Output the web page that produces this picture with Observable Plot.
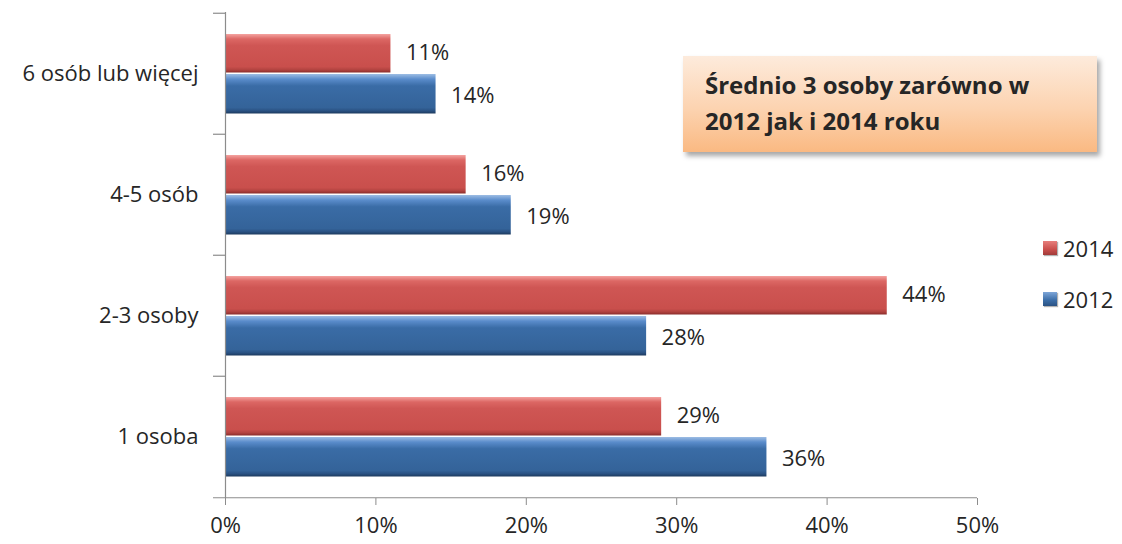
<!DOCTYPE html>
<html>
<head>
<meta charset="utf-8">
<script src="https://cdn.jsdelivr.net/npm/d3@7"></script>
<script src="https://cdn.jsdelivr.net/npm/@observablehq/plot@0.6"></script>
<style>
  html, body { margin: 0; padding: 0; background: #fff; }
  #wrap { position: relative; width: 1122px; height: 544px; font-family: "Open Sans", sans-serif; }
  #note {
    position: absolute; left: 683px; top: 56px; width: 414px; height: 96px; box-sizing: border-box;
    padding: 11px 0 0 22px;
    background: linear-gradient(to bottom, #fdebdc 0%, #fcd3b0 55%, #fab982 100%);
    box-shadow: 3px 4px 5px rgba(0,0,0,0.35);
    font-weight: bold; font-size: 24px; line-height: 36px; color: #262626;
  }
  .leg { position: absolute; left: 1043px; font-size: 22px; color: #262626; display: flex; align-items: center; }
  .leg span.sw { width: 14px; height: 14px; margin-right: 6px; box-shadow: 1px 1px 1px rgba(0,0,0,0.3); }
</style>
</head>
<body>
<div id="wrap"></div>
<script>
const categories = ["6 osób lub więcej", "4-5 osób", "2-3 osoby", "1 osoba"];
const values2014 = [11, 16, 44, 29];
const values2012 = [14, 19, 28, 36];
const xTicks = [0, 10, 20, 30, 40, 50];
const noteLines = ["Średnio 3 osoby zarówno w", "2012 jak i 2014 roku"];
const seriesNames = ["2014", "2012"];

const d2014 = categories.map((c, i) => ({cat: c, v: values2014[i]}));
const d2012 = categories.map((c, i) => ({cat: c, v: values2012[i]}));
const boundaries = categories.map(c => ({cat: c}));

const axisColor = "#8c8c8c";
const FS = 22;

const chart = Plot.plot({
  width: 1122,
  height: 544,
  marginLeft: 225,
  marginRight: 145,
  marginTop: 12,
  marginBottom: 46,
  style: {fontFamily: "'Open Sans', sans-serif", fontSize: FS + "px", color: "#262626", background: "white"},
  x: {domain: [0, 50], ticks: xTicks, tickFormat: d => d + "%"},
  y: {domain: categories, padding: 0},
  marks: [
    Plot.barX(d2014, {x: "v", y: "cat", fill: "url(#gRed)", insetTop: 21, insetBottom: 61.5, style: "filter: drop-shadow(1px 2px 1.5px rgba(0,0,0,0.35))"}),
    Plot.barX(d2012, {x: "v", y: "cat", fill: "url(#gBlue)", insetTop: 61, insetBottom: 20.5, style: "filter: drop-shadow(1px 2px 1.5px rgba(0,0,0,0.35))"}),
    Plot.text(d2014, {x: "v", y: "cat", text: d => d.v + "%", textAnchor: "start", dx: 15, dy: -21, fill: "#262626", fontSize: FS}),
    Plot.text(d2012, {x: "v", y: "cat", text: d => d.v + "%", textAnchor: "start", dx: 15, dy: 22, fill: "#262626", fontSize: FS}),
    Plot.ruleX([0], {stroke: axisColor, strokeWidth: 1.2}),
    Plot.ruleY(boundaries, {y: "cat", dy: -60.75, x1: -0.8, x2: 0, stroke: axisColor, strokeWidth: 1.2}),
    Plot.ruleY(categories.slice(-1), {y: d => d, dy: 60.75, x1: -0.8, x2: 50, stroke: axisColor, strokeWidth: 1.2}),
    Plot.axisX({ticks: xTicks, tickFormat: d => d + "%", tickSize: 7, tickPadding: 12, stroke: axisColor, color: "#262626", fontSize: FS, label: null}),
    Plot.axisY({tickSize: 0, tickPadding: 27, fontSize: FS, label: null, color: "#262626"})
  ]
});

// gradients for bevelled bars
const svg = d3.select(chart);
const defs = svg.insert("defs", ":first-child");
function grad(id, stops) {
  const g = defs.append("linearGradient").attr("id", id).attr("x1", 0).attr("y1", 0).attr("x2", 0).attr("y2", 1);
  stops.forEach(([o, c]) => g.append("stop").attr("offset", o).attr("stop-color", c));
}
grad("gRed", [[0, "#f4a3a0"], [0.13, "#dc6764"], [0.3, "#cf5654"], [0.85, "#c94f4c"], [0.93, "#b24340"], [1, "#8a2d2b"]]);
grad("gBlue", [[0, "#9dbde4"], [0.13, "#5a8ccb"], [0.3, "#3a6ca6"], [0.85, "#346399"], [0.93, "#2a5283"], [1, "#1d3a5e"]]);

const wrap = document.getElementById("wrap");
wrap.appendChild(chart);

const note = document.createElement("div");
note.id = "note";
note.innerHTML = noteLines.join("<br>");
wrap.appendChild(note);

const legColors = {"2014": "linear-gradient(to bottom, #e77f7c, #c94f4c 60%, #a13b39)", "2012": "linear-gradient(to bottom, #7ea6d8, #3a6ca6 60%, #2a5283)"};
const legTops = [233, 284];
seriesNames.forEach((s, i) => {
  const d = document.createElement("div");
  d.className = "leg";
  d.style.top = legTops[i] + "px";
  d.innerHTML = `<span class="sw" style="background:${legColors[s]}"></span>${s}`;
  wrap.appendChild(d);
});
</script>
</body>
</html>
